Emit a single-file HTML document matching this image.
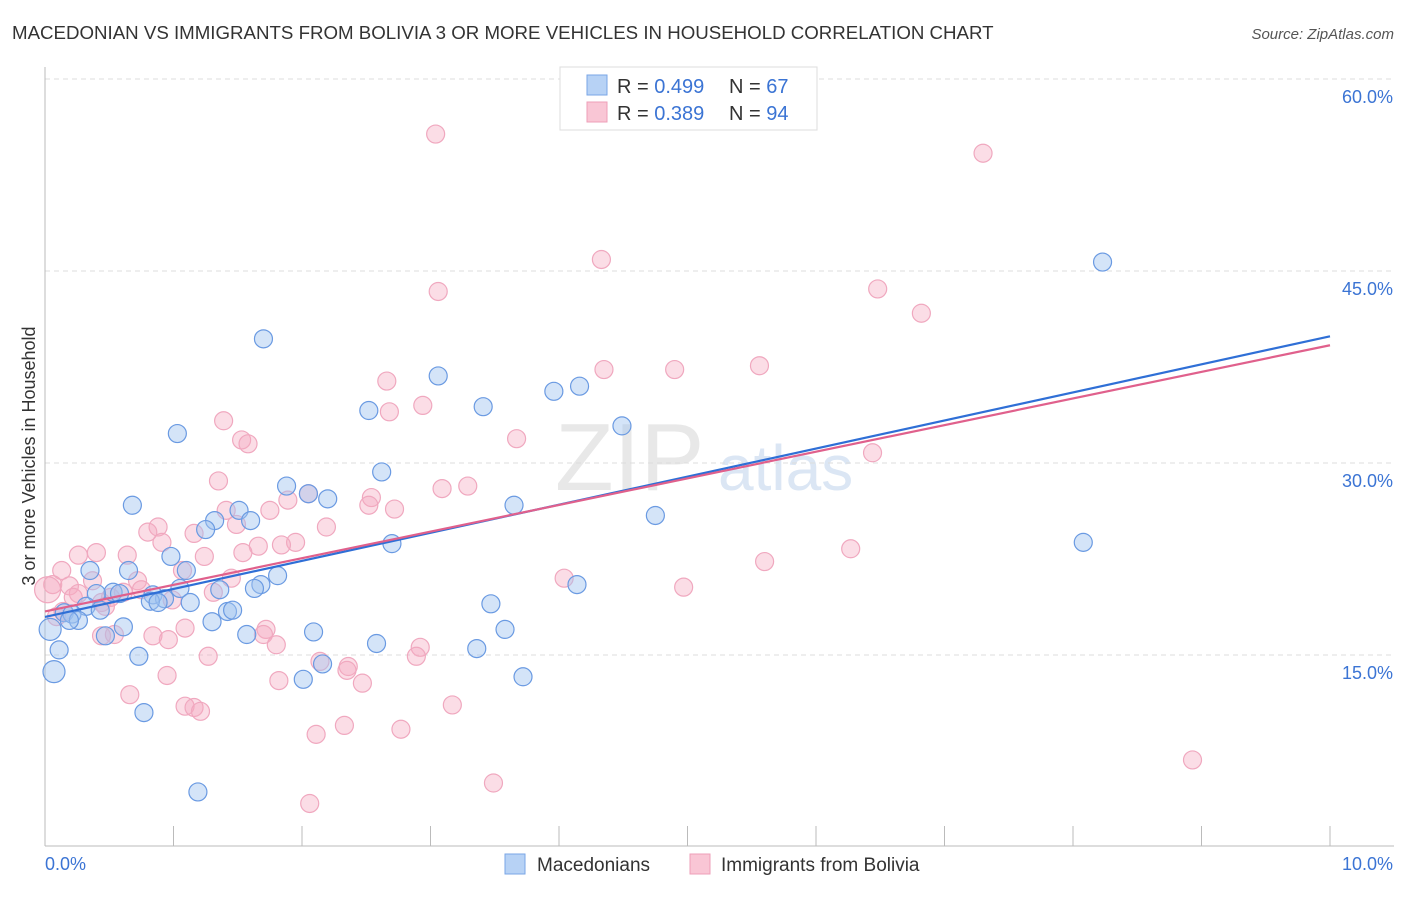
<!DOCTYPE html>
<html><head><meta charset="utf-8"><style>
body{margin:0;background:#fff;font-family:"Liberation Sans",sans-serif;}
svg text{font-family:"Liberation Sans",sans-serif;}
</style></head><body>
<svg id="chart" width="1406" height="892">
<text x="12" y="39" font-size="18.7" fill="#333">MACEDONIAN VS IMMIGRANTS FROM BOLIVIA 3 OR MORE VEHICLES IN HOUSEHOLD CORRELATION CHART</text>
<text x="1394" y="39" font-size="15" fill="#555" font-style="italic" text-anchor="end">Source: ZipAtlas.com</text>
<text x="555" y="490" font-size="96" fill="#e8e8e8" font-family="Liberation Serif">ZIP</text>
<text x="718" y="490" font-size="64" fill="#dbe6f4">atlas</text>
<text x="35" y="456" font-size="18" fill="#333" transform="rotate(-90 35 456)" text-anchor="middle">3 or more Vehicles in Household</text>
<g id="grid"></g><g id="marks"></g><g id="trends"></g>
<g>
<rect x="560" y="67" width="257" height="63" fill="#fff" stroke="#ddd"/>
<rect x="587" y="75" width="20" height="20" fill="#b7d2f5" stroke="#7aa6e6"/>
<rect x="587" y="102" width="20" height="20" fill="#f9c6d5" stroke="#ee9fb8"/>
<text x="617" y="93" font-size="20" fill="#333">R = <tspan fill="#3b74d4">0.499</tspan></text>
<text x="729" y="93" font-size="20" fill="#333">N = <tspan fill="#3b74d4">67</tspan></text>
<text x="617" y="120" font-size="20" fill="#333">R = <tspan fill="#3b74d4">0.389</tspan></text>
<text x="729" y="120" font-size="20" fill="#333">N = <tspan fill="#3b74d4">94</tspan></text>
</g>
<rect x="505" y="854" width="20" height="20" fill="#b7d2f5" stroke="#7aa6e6"/>
<text x="537" y="871" font-size="19" fill="#333">Macedonians</text>
<rect x="690" y="854" width="20" height="20" fill="#f9c6d5" stroke="#ee9fb8"/>
<text x="721" y="871" font-size="19" fill="#333">Immigrants from Bolivia</text>
</svg>
<script>
const yTicks=[15,30,45,60];
const xTickLabels=["0.0%","10.0%"];
const blueX=[8.23,1.70,3.06,4.16,3.96,2.52,3.41,4.49,1.03,2.62,1.88,2.05,2.20,0.68,3.65,4.75,1.51,1.32,1.60,1.25,2.70,8.08,0.98,0.35,0.65,1.10,1.81,4.14,1.68,1.63,1.05,0.53,0.40,0.58,0.84,1.36,0.93,0.82,1.13,0.88,0.32,3.47,0.43,1.42,1.46,0.15,0.21,0.26,0.19,1.30,0.61,2.09,3.58,1.57,0.47,2.58,0.11,0.73,3.36,2.16,0.07,2.01,3.72,0.77,1.19,0.04];
const blueY=[45.7,39.7,36.8,36.0,35.6,34.1,34.4,32.9,32.3,29.3,28.2,27.6,27.2,26.7,26.7,25.9,26.3,25.5,25.5,24.8,23.7,23.8,22.7,21.6,21.6,21.6,21.2,20.5,20.5,20.2,20.2,19.9,19.8,19.8,19.7,20.1,19.4,19.2,19.1,19.1,18.8,19.0,18.5,18.4,18.5,18.3,18.2,17.7,17.7,17.6,17.2,16.8,17.0,16.6,16.5,15.9,15.4,14.9,15.5,14.3,13.7,13.1,13.3,10.5,4.3,17.0];
const pinkX=[3.04,7.30,4.33,3.06,6.48,6.82,4.35,4.90,5.56,2.66,2.94,2.68,1.39,3.67,1.53,1.58,6.44,1.35,3.29,3.09,2.05,2.54,1.89,2.52,2.72,1.41,1.75,0.88,2.19,1.49,0.80,1.16,0.91,1.95,1.66,1.84,1.54,0.40,0.26,0.64,6.27,1.24,5.60,0.13,1.07,1.45,0.37,4.04,0.72,0.06,0.19,4.97,0.26,0.61,0.75,1.31,0.22,0.51,0.44,0.47,0.99,0.14,0.09,0.02,1.09,1.72,1.70,0.84,0.44,0.54,0.96,1.80,2.92,2.89,1.27,2.14,2.36,2.35,0.95,1.82,2.47,0.66,3.17,1.09,1.16,1.21,2.33,2.11,2.77,8.93,3.49,2.06];
const pinkY=[55.7,54.2,45.9,43.4,43.6,41.7,37.3,37.3,37.6,36.4,34.5,34.0,33.3,31.9,31.8,31.5,30.8,28.6,28.2,28.0,27.6,27.3,27.1,26.7,26.4,26.3,26.3,25.0,25.0,25.2,24.6,24.5,23.8,23.8,23.5,23.6,23.0,23.0,22.8,22.8,23.3,22.7,22.3,21.6,21.6,21.0,20.8,21.0,20.8,20.5,20.4,20.3,19.8,19.9,20.1,19.9,19.5,19.5,19.1,18.8,19.3,18.4,18.0,20.1,17.1,17.0,16.6,16.5,16.5,16.6,16.2,15.8,15.6,14.9,14.9,14.5,14.1,13.8,13.4,13.0,12.8,11.9,11.1,11.0,10.9,10.6,9.5,8.8,9.2,6.8,5.0,3.4];
const blueTrend=[17.97,39.9];
const pinkTrend=[18.4,39.2];
const NS="http://www.w3.org/2000/svg";
const X=v=>45+v/10*1285, Y=v=>847-v/15*192;
function mk(t,a,p){const e=document.createElementNS(NS,t);for(const k in a)e.setAttribute(k,a[k]);p.appendChild(e);return e;}
const grid=document.getElementById('grid');
yTicks.forEach(t=>{const l=mk('line',{x1:45,x2:1394,y1:Y(t),y2:Y(t),stroke:'#ddd','stroke-dasharray':'5,4'},grid);


const tx=mk('text',{x:1393,y:Y(t)+24,'font-size':18,fill:'#3b74d4','text-anchor':'end'},grid);tx.textContent=t.toFixed(1)+'%';

});
const ax=mk('line',{x1:45,x2:45,y1:67,y2:846,stroke:'#bbb'},grid);


const bx=mk('line',{x1:45,x2:1394,y1:846,y2:846,stroke:'#bbb'},grid);


for(let i=1;i<=10;i++){const tk=mk('line',{x1:X(i),x2:X(i),y1:826,y2:846,stroke:'#bbb'},grid);

}
xTickLabels.forEach((s,i)=>{const t=mk('text',{x:i?1393:45,y:870,'font-size':18,fill:'#3b74d4','text-anchor':i?'end':'start'},grid);t.textContent=s;

});
const marks=document.getElementById('marks');
pinkX.forEach((x,i)=>{const c=mk('circle',{cx:X(x),cy:Y(pinkY[i]),r:x<0.05?13:9,fill:'rgba(244,170,192,0.4)',stroke:'#f0a8bf','stroke-width':1.2},marks);

});
blueX.forEach((x,i)=>{const c=mk('circle',{cx:X(x),cy:Y(blueY[i]),r:x<0.1?11:9,fill:'rgba(160,196,240,0.45)',stroke:'#6a9ae2','stroke-width':1.2},marks);

});
const tr=document.getElementById('trends');
const lb=mk('line',{x1:X(0),x2:X(10),y1:Y(blueTrend[0]),y2:Y(blueTrend[1]),stroke:'#2f6fd6','stroke-width':2.2},tr);


const lp=mk('line',{x1:X(0),x2:X(10),y1:Y(pinkTrend[0]),y2:Y(pinkTrend[1]),stroke:'#e0608c','stroke-width':2.2},tr);


</script>
</body></html>
